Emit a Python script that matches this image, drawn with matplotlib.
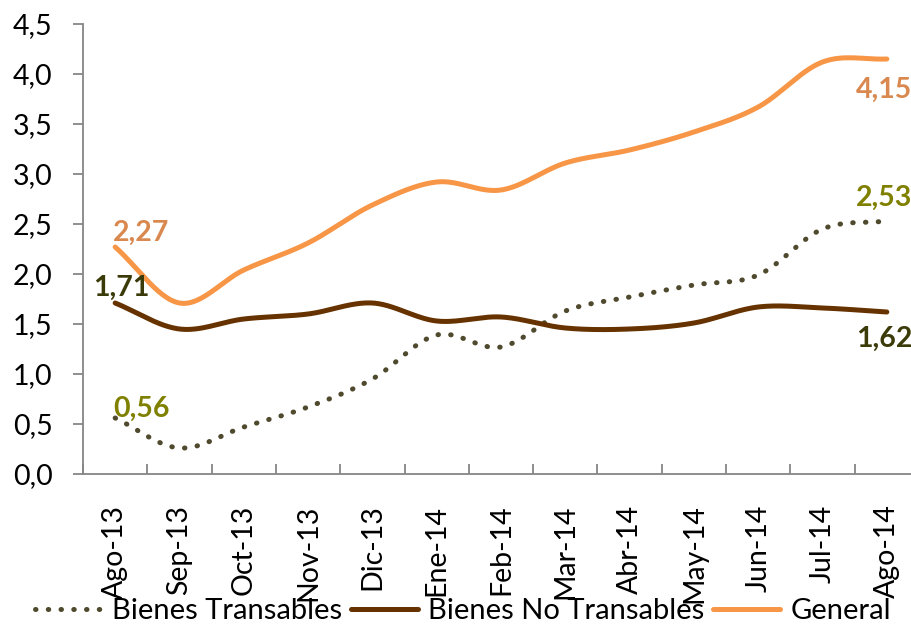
import matplotlib
matplotlib.use("Agg")
import matplotlib.pyplot as plt
import numpy as np
from matplotlib.ticker import FuncFormatter, MultipleLocator, FixedLocator

plt.rcParams['font.family'] = ['Lato', 'DejaVu Sans']

# Datos
meses = ['Ago-13', 'Sep-13', 'Oct-13', 'Nov-13', 'Dic-13', 'Ene-14', 'Feb-14',
         'Mar-14', 'Abr-14', 'May-14', 'Jun-14', 'Jul-14', 'Ago-14']
transables = [0.56, 0.26, 0.47, 0.67, 0.95, 1.39, 1.27, 1.63, 1.77, 1.89, 1.99, 2.45, 2.53]
no_transables = [1.71, 1.45, 1.55, 1.60, 1.71, 1.53, 1.57, 1.46, 1.45, 1.51, 1.67, 1.66, 1.62]
general = [2.27, 1.71, 2.04, 2.31, 2.69, 2.92, 2.84, 3.11, 3.24, 3.42, 3.67, 4.12, 4.15]


def suavizar(y, n=30):
    # curva tipo Catmull-Rom (como la linea suavizada de Excel)
    y = np.asarray(y, dtype=float)
    x = np.arange(len(y), dtype=float)
    px = np.concatenate([[2 * x[0] - x[1]], x, [2 * x[-1] - x[-2]]])
    py = np.concatenate([[2 * y[0] - y[1]], y, [2 * y[-1] - y[-2]]])
    xs, ys = [], []
    t = np.linspace(0, 1, n, endpoint=False)
    for i in range(1, len(px) - 2):
        p0, p1, p2, p3 = py[i - 1], py[i], py[i + 1], py[i + 2]
        q0, q1, q2, q3 = px[i - 1], px[i], px[i + 1], px[i + 2]
        f = lambda a0, a1, a2, a3: 0.5 * ((2 * a1) + (-a0 + a2) * t +
                                          (2 * a0 - 5 * a1 + 4 * a2 - a3) * t ** 2 +
                                          (-a0 + 3 * a1 - 3 * a2 + a3) * t ** 3)
        xs.append(f(q0, q1, q2, q3))
        ys.append(f(p0, p1, p2, p3))
    xs.append([x[-1]])
    ys.append([y[-1]])
    return np.concatenate(xs), np.concatenate(ys)


fig = plt.figure(figsize=(9.12, 6.24), dpi=100)
ax = fig.add_axes([83 / 912, 150 / 624, 836 / 912, 450 / 624])

x1, y1 = suavizar(transables)
x2, y2 = suavizar(no_transables)
x3, y3 = suavizar(general)
ax.plot(x1, y1, color='#4F4A2E', linewidth=3.6, linestyle=(0, (0.1, 2.45)),
        dash_capstyle='round', label='Bienes Transables')
ax.plot(x2, y2, color='#663300', linewidth=3.6, solid_capstyle='round',
        label='Bienes No Transables')
ax.plot(x3, y3, color='#F79646', linewidth=3.6, solid_capstyle='round',
        label='General')

ax.set_xlim(-0.5, 12.5)
ax.set_ylim(0, 4.5)
ax.yaxis.set_major_locator(MultipleLocator(0.5))
ax.yaxis.set_major_formatter(FuncFormatter(lambda v, p: '{:.1f}'.format(v).replace('.', ',')))
ax.set_xticks(range(len(meses)))
ax.set_xticklabels(meses, rotation=90)
ax.xaxis.set_minor_locator(FixedLocator(np.arange(-0.5, 12.6, 1)))
ax.tick_params(axis='x', which='major', length=0, pad=22, labelsize=20.5)
ax.tick_params(axis='x', which='minor', direction='in', length=7, width=1.3, color='#868686')
ax.tick_params(axis='y', direction='out', length=7, width=1.3, color='#868686',
               labelsize=20.5, pad=15)
for lado in ['top', 'right']:
    ax.spines[lado].set_visible(False)
for lado in ['left', 'bottom']:
    ax.spines[lado].set_color('#868686')
    ax.spines[lado].set_linewidth(1.3)

# Etiquetas de datos
kw = dict(textcoords='offset pixels', fontsize=20.5, fontweight='bold', va='center')
ax.annotate('{:.2f}'.format(general[0]).replace('.', ','), (0, general[0]),
            xytext=(-2, 14), color='#D9894F', ha='left', **kw)
ax.annotate('{:.2f}'.format(no_transables[0]).replace('.', ','), (0, no_transables[0]),
            xytext=(6, 15), color='#3B3B0A', ha='center', **kw)
ax.annotate('{:.2f}'.format(transables[0]).replace('.', ','), (0, transables[0]),
            xytext=(-2, 9), color='#808000', ha='left', **kw)
ax.annotate('{:.2f}'.format(general[-1]).replace('.', ','), (12, general[-1]),
            xytext=(-3, -31), color='#D9894F', ha='center', **kw)
ax.annotate('{:.2f}'.format(transables[-1]).replace('.', ','), (12, transables[-1]),
            xytext=(-3, 23), color='#808000', ha='center', **kw)
ax.annotate('{:.2f}'.format(no_transables[-1]).replace('.', ','), (12, no_transables[-1]),
            xytext=(-3, -27), color='#3B3B0A', ha='center', **kw)

fig.legend(loc='center', bbox_to_anchor=(463 / 912, 13 / 624), ncol=3, frameon=False,
           fontsize=21, handlelength=2.3, handletextpad=0.35, columnspacing=0.3,
           borderaxespad=0)

fig.savefig('out.png', dpi=100)
